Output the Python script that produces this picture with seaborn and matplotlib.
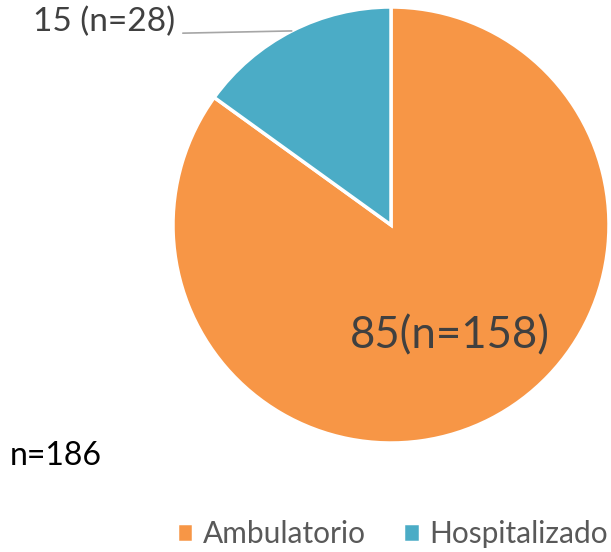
import numpy as np
import matplotlib
matplotlib.use("Agg")
import matplotlib.pyplot as plt
import seaborn as sns

# data
categories = ["Ambulatorio", "Hospitalizado"]
counts = [158, 28]
colors = ["#F79646", "#4BACC6"]

sns.set_theme(style="white")
plt.rcParams['font.family'] = ['Lato', 'DejaVu Sans']

total = sum(counts)
pcts = [round(100 * c / total) for c in counts]

fig = plt.figure(figsize=(6.11, 5.52), dpi=100)
fig.patch.set_facecolor("white")
# square axes holding the pie (center ~ (391,225) px, radius ~218 px)
ax = fig.add_axes([173 / 611, 109 / 552, 436 / 611, 436 / 552])

wedges, _ = ax.pie(counts, colors=colors, startangle=90, counterclock=False,
                   radius=1, wedgeprops=dict(edgecolor="white", linewidth=2.5))
ax.set_xlim(-1, 1)
ax.set_ylim(-1, 1)
ax.set_aspect("equal")
ax.axis("off")

# label inside the big slice
ax.text(0.27, -0.51, "{}(n={})".format(pcts[0], counts[0]), fontsize=31.5,
        color="#404040", ha="center", va="center")

# label for the small slice with leader line
w = wedges[1]
mid = np.deg2rad((w.theta1 + w.theta2) / 2)
ax.plot([-0.955, np.cos(mid)], [0.88, np.sin(mid)], color="#A6A6A6", lw=1.2,
        clip_on=False)
ax.text(-0.99, 0.93, "{} (n={})".format(pcts[1], counts[1]), fontsize=24,
        color="#404040", ha="right", va="center")

fig.text(10 / 611, (552 - 456) / 552, "n={}".format(total), fontsize=23,
         color="black", ha="left", va="center")

leg = fig.legend(wedges, categories, loc="lower right", bbox_to_anchor=(1.02, -0.02),
                 ncol=2, frameon=False, fontsize=21.5, handlelength=0.55,
                 handleheight=0.6, handletextpad=0.33, columnspacing=1.25,
                 borderaxespad=0.1)
for t in leg.get_texts():
    t.set_color("#595959")

fig.savefig("out.png", dpi=100)
